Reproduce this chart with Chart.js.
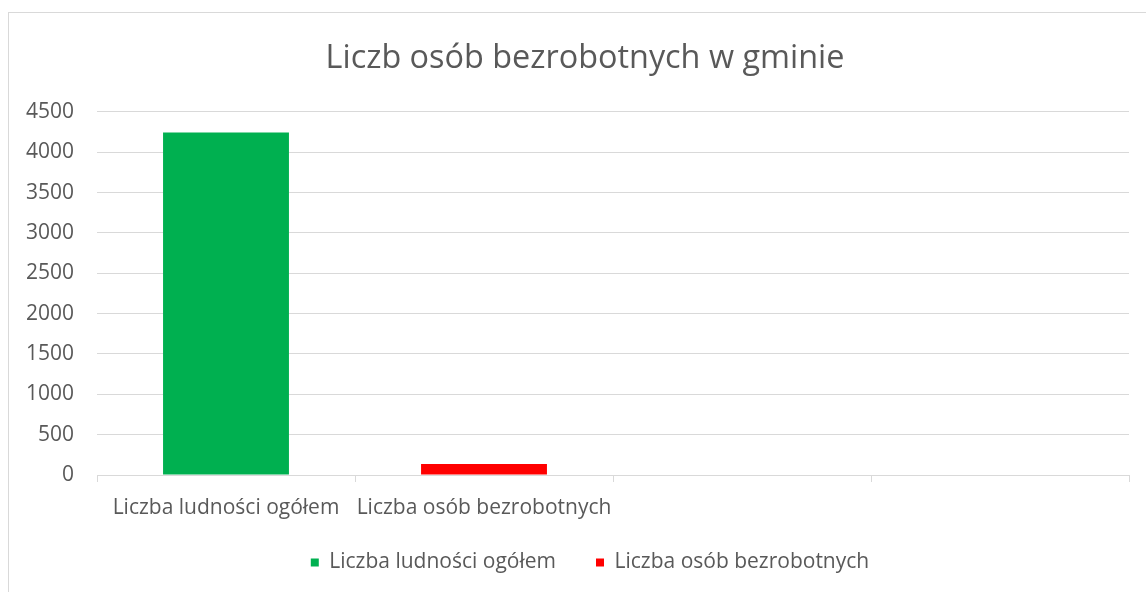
<!DOCTYPE html>
<html>
<head>
<meta charset="utf-8">
<script src="https://cdn.jsdelivr.net/npm/chart.js@4"></script>
<style>
  html, body { margin: 0; padding: 0; background: #fff; }
  #frame { position: absolute; left: 8px; top: 12px; width: 1200px; height: 700px;
           border-left: 1px solid #d9d9d9; border-top: 1px solid #d9d9d9; }
  #wrap { position: absolute; left: 0; top: 0; width: 1146px; height: 592px; }
</style>
</head>
<body>
<div id="frame"></div>
<div id="wrap"><canvas id="myChart"></canvas></div>
<script>
// dane wykresu
var categories = ['Liczba ludności ogółem', 'Liczba osób bezrobotnych', '', '']
var ludnosc = [4245, null, null, null]
var bezrobotni = [null, 135, null, null]
var yTicks = [0, 500, 1000, 1500, 2000, 2500, 3000, 3500, 4000, 4500]

var textColor = '#595959'
var gridColor = '#d9d9d9'

// legenda ma duzy odstep miedzy pozycjami, wiec podnosimy jej gorna krawedz
var legendShift = {
    id: 'legendShift',
    afterLayout: function(chart) {
        chart.legend.top -= 13
        chart.legend.left += 5
        chart.legend.right += 5
    }
}

var ctx = document.getElementById('myChart').getContext('2d');
var myChart = new Chart(ctx, {
    type: 'bar',
    data: {
        labels: categories,
        datasets: [{
            label: 'Liczba ludności ogółem',
            data: ludnosc,
            backgroundColor: '#00b050',
            borderWidth: 0
        }, {
            label: 'Liczba osób bezrobotnych',
            data: bezrobotni,
            backgroundColor: '#ff0000',
            borderWidth: 0
        }]
    },
    plugins: [legendShift],
    options: {
        responsive: true,
        maintainAspectRatio: false,
        animation: false,
        layout: { padding: { left: 24, right: 0, top: 0, bottom: 0 } },
        datasets: { bar: { categoryPercentage: 1, barPercentage: 0.488 } },
        plugins: {
            title: {
                display: true,
                text: 'Liczb osób bezrobotnych w gminie',
                color: textColor,
                font: { family: 'Open Sans', size: 32.4, weight: 'normal' },
                padding: { top: 39, bottom: 34 }
            },
            legend: {
                position: 'bottom',
                maxHeight: 67,
                labels: {
                    color: textColor,
                    font: { family: 'Open Sans', size: 21 },
                    boxWidth: 8,
                    boxHeight: 8,
                    padding: 40
                }
            },
            tooltip: { enabled: false }
        },
        scales: {
            x: {
                stacked: true,
                grid: { drawOnChartArea: false, color: gridColor, tickLength: 7, offset: true },
                border: { color: gridColor },
                ticks: { color: textColor, font: { family: 'Open Sans', size: 21 }, padding: 13, maxRotation: 0 },
                afterFit: function(scale) { scale.height = 50 }
            },
            y: {
                stacked: true,
                min: 0,
                max: 4500,
                afterBuildTicks: function(scale) {
                    scale.ticks = yTicks.map(function(v) { return { value: v } })
                },
                grid: { color: gridColor, drawTicks: false },
                border: { display: false },
                ticks: {
                    color: textColor,
                    font: { family: 'Open Sans', size: 21 },
                    padding: 23,
                    callback: function(v) { return String(v) }
                },
                afterFit: function(scale) { scale.width = 73 }
            },
            // pusta os po prawej, tylko zeby zostawic margines
            y2: {
                position: 'right',
                grid: { display: false },
                border: { display: false },
                ticks: { display: false },
                afterFit: function(scale) { scale.width = 17 }
            }
        }
    }
});
</script>
</body>
</html>
